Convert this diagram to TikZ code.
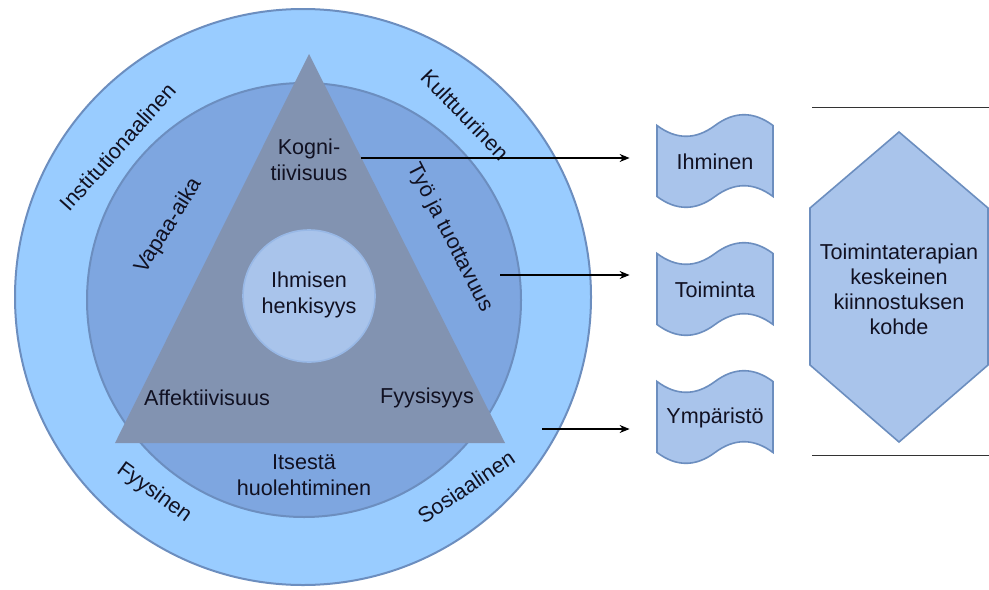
\documentclass[tikz,border=0pt]{standalone}
\usepackage{fontspec}
\setmainfont{Liberation Sans}
\usetikzlibrary{arrows.meta}
\definecolor{ringout}{HTML}{99CCFF}
\definecolor{ringmid}{HTML}{7EA6E0}
\definecolor{ringline}{HTML}{6C8EBF}
\definecolor{trifill}{RGB}{130,147,177}
\definecolor{corefill}{HTML}{A9C4EB}
\definecolor{txt}{HTML}{111122}
\begin{document}
\begin{tikzpicture}[x=0.5pt,y=-0.5pt,
  every node/.style={text=txt,font=\fontsize{10.8}{13}\selectfont,inner sep=0pt,align=center},
  ringnode/.style={circle,draw=ringline,line width=1pt},
  arr/.style={draw=black,line width=0.6pt,-{Stealth[length=5pt,width=4pt]}},
  rule/.style={draw=black!80,line width=0.5pt},
  flagshape/.style={fill=corefill,draw=ringline,line width=0.8pt},
  tape/.pic={\path[flagshape] (-58,-35.5) .. controls (-38.67,-21.1) and (-19.33,-21.1) .. (0,-35.5)
      .. controls (19.33,-49.9) and (38.67,-49.9) .. (58,-35.5) -- (58,35.5)
      .. controls (38.67,21.1) and (19.33,21.1) .. (0,35.5)
      .. controls (-19.33,49.9) and (-38.67,49.9) .. (-58,35.5) -- cycle;}
]
\useasboundingbox (0,0) rectangle (989,589);
\fill[white] (0,0) rectangle (989,589);

% rings
\node[ringnode,fill=ringout,minimum size=288pt] (outer) at (303,297) {};
\node[ringnode,fill=ringmid,minimum size=217pt] (mid) at (304,300) {};

% triangle
\coordinate (tA) at (309,54);
\coordinate (tB) at (115,443);
\coordinate (tC) at (505,443);
\fill[trifill] (tA) -- (tB) -- (tC) -- cycle;

\node[circle,fill=corefill,draw=ringmid!80!white,line width=0.8pt,minimum size=66pt] (core) at (309,296) {};

% texts
\node (kog) at (309,160) {Kogni-\\tiivisuus};
\node (henk) at (309,295) {Ihmisen\\henkisyys};
\node (aff) at (207,398) {Affektiivisuus};
\node (fyys) at (427,398) {Fyysisyys};
\node (its) at (304,475) {Itsestä\\huolehtiminen};
\node[rotate=48] (inst) at (118,147) {Institutionaalinen};
\node[rotate=-46] (kult) at (465,115) {Kulttuurinen};
\node[rotate=58] (vap) at (169,226) {Vapaa-aika};
\node[rotate=-63] (tyo) at (450,238) {Työ ja tuottavuus};
\node[rotate=-36] (fysi) at (154,493) {Fyysinen};
\node[rotate=34] (sos) at (466,487) {Sosiaalinen};

% flags
\pic at (715,161) {tape};
\pic at (715,289) {tape};
\pic at (715,417) {tape};
\node[minimum width=58pt,minimum height=47.5pt] (fl1) at (715,162) {Ihminen};
\node[minimum width=58pt,minimum height=47.5pt] (fl2) at (715,290) {Toiminta};
\node[minimum width=58pt,minimum height=47.5pt] (fl3) at (715,418) {Ympäristö};

% arrows
\coordinate (a1) at (361,158);
\coordinate (a2) at (500,275);
\coordinate (a3) at (542,429);
\draw[arr,shorten >=13.5pt] (a1) -- (a1 -| fl1.west);
\draw[arr,shorten >=13.5pt] (a2) -- (a2 -| fl2.west);
\draw[arr,shorten >=13.5pt] (a3) -- (a3 -| fl3.west);

% hexagon
\coordinate (h1) at (899,132);
\coordinate (h2) at (988,208);
\coordinate (h3) at (988,365);
\coordinate (h4) at (899,442);
\coordinate (h5) at (810,365);
\coordinate (h6) at (810,208);
\path[flagshape] (h1) -- (h2) -- (h3) -- (h4) -- (h5) -- (h6) -- cycle;
\node[font=\fontsize{10.8}{12.5}\selectfont] (hex) at (899,289) {Toimintaterapian\\keskeinen\\kiinnostuksen\\kohde};

% rules
\coordinate (r1a) at (812,107);
\coordinate (r1b) at (989,107);
\coordinate (r2a) at (812,455);
\coordinate (r2b) at (989,455);
\draw[rule] (r1a) -- (r1b);
\draw[rule] (r2a) -- (r2b);
\end{tikzpicture}
\end{document}
